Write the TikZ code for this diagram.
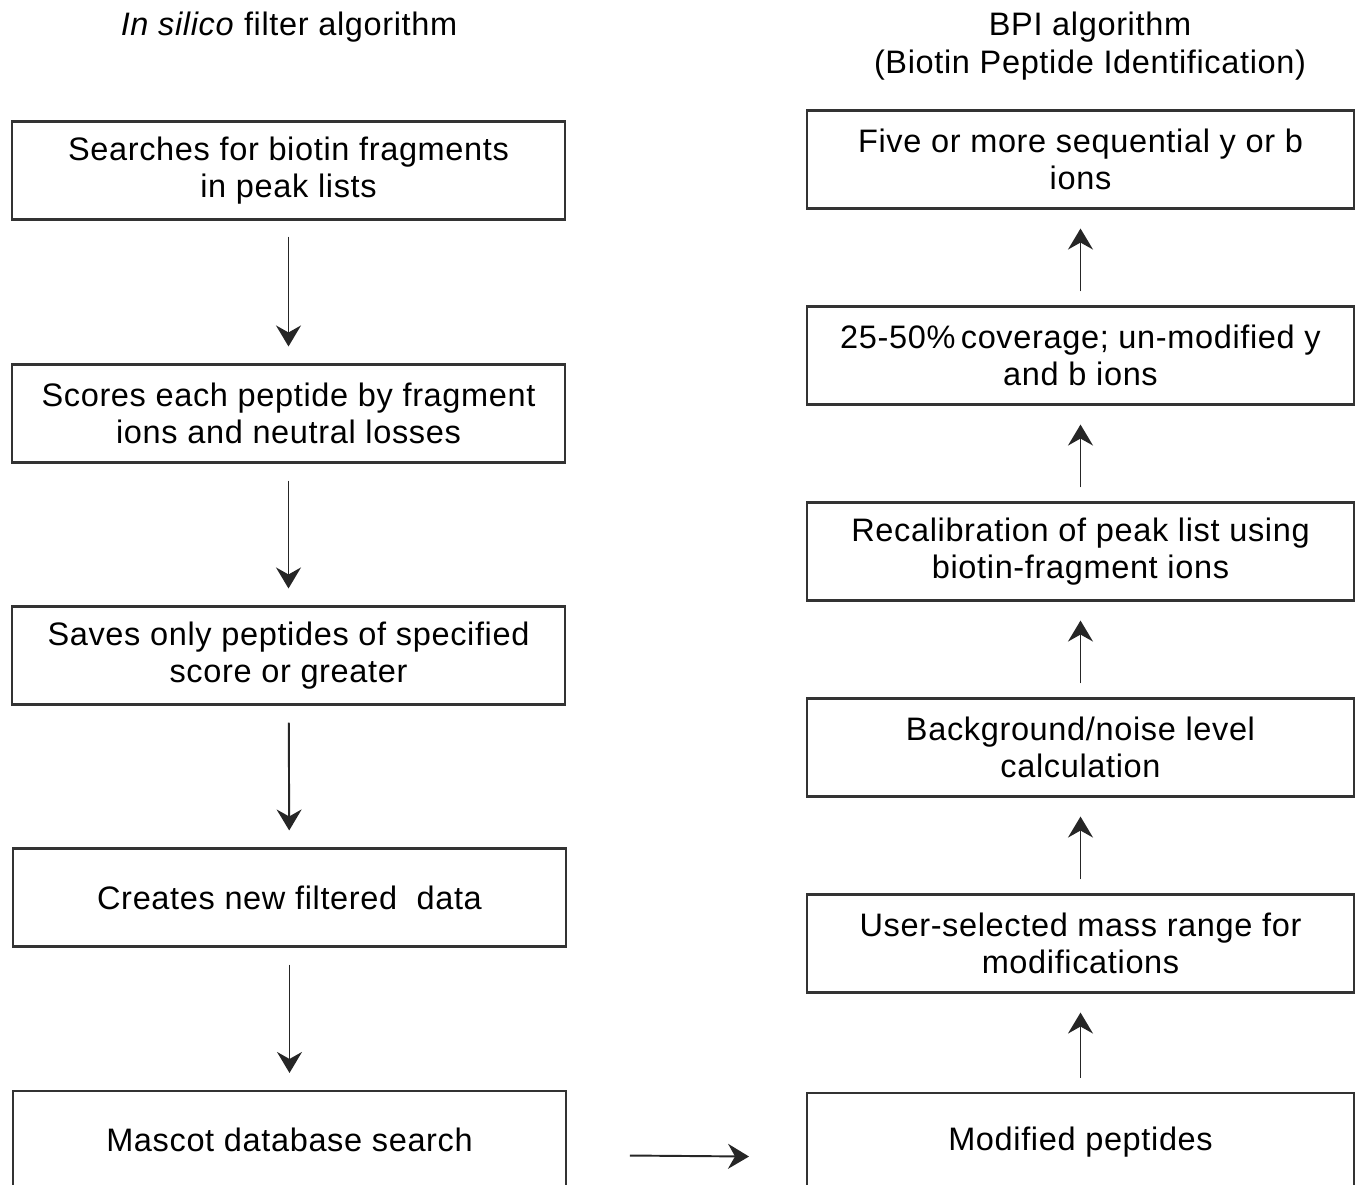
\documentclass[tikz,border=0pt]{standalone}
\usepackage{fontspec}
\setmainfont{Liberation Sans}[LetterSpace=2]
\usepackage{tikz}
\usetikzlibrary{arrows.meta, positioning}
\tikzset{
	boxnode/.style={
			rectangle,
			draw=black!80,
			line width=1.2pt,
			fill=white,
			minimum height=1.96cm,
			inner sep=0pt,
			align=center,
			font=\fontsize{18.5}{21.3}\selectfont
		},
	leftbox/.style={
			boxnode,
			minimum width=11.06cm
		},
	rightbox/.style={
			boxnode,
			minimum width=10.94cm
		},
	titlenode/.style={
			align=center,
			inner sep=0pt,
			font=\fontsize{18.5}{21.3}\selectfont
		},
	flowarrow/.style={
			draw=black!85,
			line width=1.1pt,
			-{Stealth[length=0.42cm, width=0.5cm, inset=0.14cm]}
		}
}

\begin{document}
\begin{tikzpicture}[x=0.02cm, y=-0.02cm]
\useasboundingbox (0,0) rectangle (1355,1185);
\clip (0,0) rectangle (1355,1185);

% titles
\node[titlenode] (tleft) at (289,27) {\textit{In silico} filter algorithm};
\node[titlenode] (tright) at (1090,46) {BPI algorithm\\(Biotin Peptide Identification)};

% in silico filter
\node[leftbox] (l1) at (288.5,170.5) {Searches for biotin fragments\\in peak lists};
\node[leftbox] (l2) at (288.5,413.5) {Scores each peptide by fragment\\ions and neutral losses};
\node[leftbox] (l3) at (288.5,655.5) {Saves only peptides of specified\\score or greater};
\node[leftbox] (l4) at (289.5,897.5) {Creates new filtered\ \ data};
\node[leftbox] (l5) at (289.5,1140) {Mascot database search};

\draw[flowarrow, shorten <=0.32cm, shorten >=0.34cm] (l1) -- (l2);
\draw[flowarrow, shorten <=0.34cm, shorten >=0.34cm] (l2) -- (l3);
\draw[flowarrow, shorten <=0.34cm, shorten >=0.34cm] (l3) -- (l4);
\draw[flowarrow, shorten <=0.34cm, shorten >=0.34cm] (l4) -- (l5);

% BPI
\node[rightbox] (r1) at (1080.5,159.5) {Five or more sequential y or b\\ions};
\node[rightbox] (r2) at (1080.5,355.5) {25-50\%\,coverage; un-modified y\\and b ions};
\node[rightbox] (r3) at (1080.5,551.5) {Recalibration of peak list using\\biotin-fragment ions};
\node[rightbox] (r4) at (1080.5,747.5) {Background/noise level\\calculation};
\node[rightbox] (r5) at (1080.5,943.5) {User-selected mass range for\\modifications};
\node[rightbox] (r6) at (1080.5,1142) {Modified peptides};

\draw[flowarrow, shorten <=0.28cm, shorten >=0.38cm] (r6) -- (r5);
\draw[flowarrow, shorten <=0.28cm, shorten >=0.38cm] (r5) -- (r4);
\draw[flowarrow, shorten <=0.28cm, shorten >=0.38cm] (r4) -- (r3);
\draw[flowarrow, shorten <=0.28cm, shorten >=0.38cm] (r3) -- (r2);
\draw[flowarrow, shorten <=0.28cm, shorten >=0.38cm] (r2) -- (r1);

\draw[flowarrow, shorten <=1.26cm, shorten >=1.14cm] ([yshift=-0.3cm]l5.east) -- ([yshift=-0.3cm]r6.west);

\end{tikzpicture}
\end{document}
